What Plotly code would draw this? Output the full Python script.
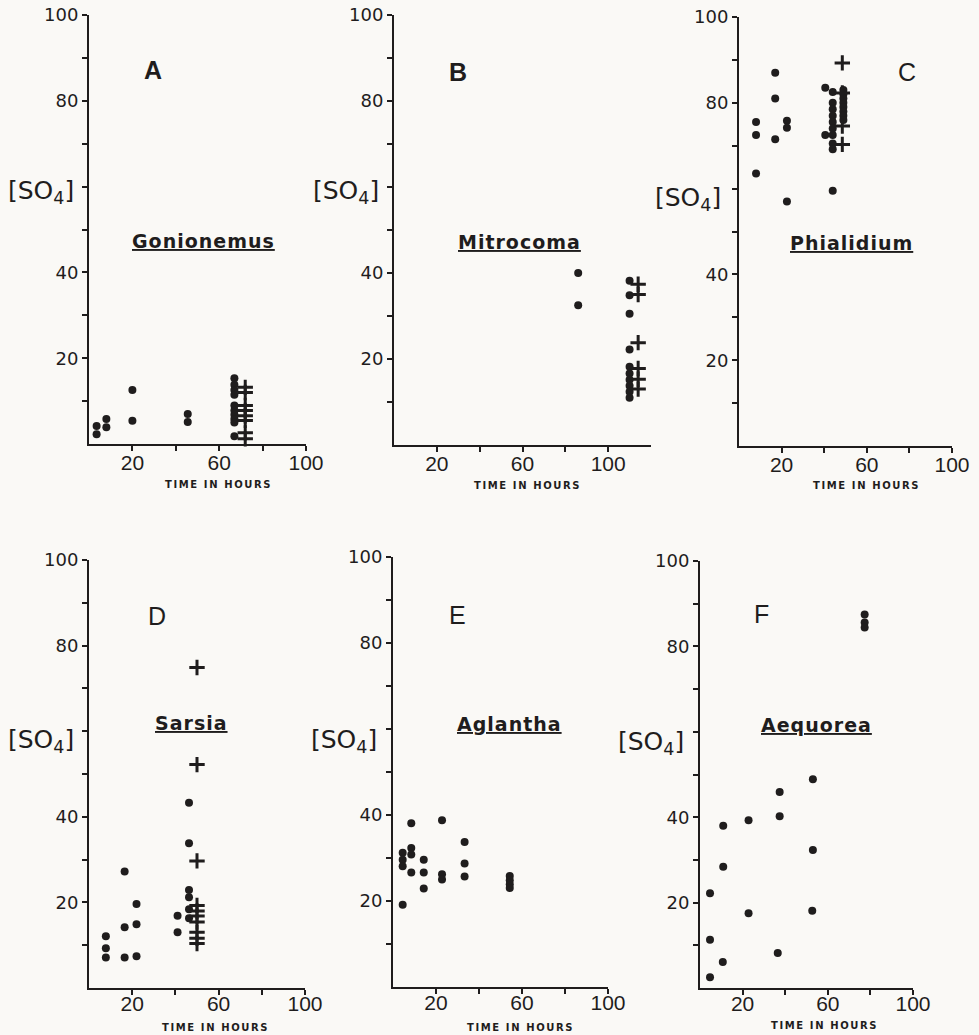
import plotly.graph_objects as go

W, H = 979, 1035
INK = "#1f1d1d"
BG = "#faf9f6"

# ---------------- data (time in hours, [SO4]) ----------------
# A  Gonionemus
a_dot_x = [3.5, 3.5, 8, 8, 20, 20, 45.5, 45.5, 67, 67, 67, 67, 67, 67, 67, 67, 67, 67]
a_dot_y = [2.3, 4.2, 3.9, 5.8, 12.6, 5.4, 7.0, 5.1, 15.3, 13.8, 12.6, 11.5, 9.0, 7.8, 6.8, 5.8, 5.0, 1.8]
a_crs_x = [72, 72, 72, 72, 72, 72, 72, 72]
a_crs_y = [13.2, 12.0, 9.0, 7.8, 6.6, 5.5, 2.6, 1.2]

# B  Mitrocoma
b_dot_x = [86, 86, 110, 110, 110, 110, 110, 110, 110, 110, 110, 110]
b_dot_y = [40.0, 32.5, 38.2, 34.8, 30.5, 22.2, 18.2, 16.6, 15.2, 13.8, 12.4, 11.0]
b_crs_x = [114, 114, 114, 114, 114, 114]
b_crs_y = [37.4, 35.0, 23.8, 17.8, 15.3, 13.0]

# C  Phialidium
c_dot_x = [8, 8, 8, 17, 17, 17, 22.5, 22.5, 22.5, 40.5, 40.5,
           44, 44, 44, 44, 44, 44, 44, 44, 44, 44,
           49, 49, 49, 49, 49, 49, 49, 49]
c_dot_y = [75.5, 72.5, 63.5, 87.0, 81.0, 71.5, 75.8, 74.2, 57.0, 83.5, 72.5,
           82.5, 80.0, 78.5, 77.0, 75.5, 74.0, 72.5, 70.5, 69.2, 59.5,
           83.0, 82.0, 81.0, 80.0, 79.0, 78.0, 77.0, 76.0]
c_crs_x = [48.5, 48.5, 48.5, 48.5]
c_crs_y = [89.3, 82.3, 74.6, 70.3]

# D  Sarsia
d_dot_x = [7.8, 7.8, 7.8, 16.5, 16.5, 16.5, 22, 22, 22, 41, 41,
           46.3, 46.3, 46.3, 46.3, 46.3, 46.3]
d_dot_y = [12.1, 9.3, 7.1, 27.2, 14.2, 7.1, 19.6, 14.9, 7.4, 16.9, 13.0,
           43.3, 33.8, 22.9, 21.2, 18.4, 16.3]
d_crs_x = [50, 50, 50, 50, 50, 50, 50, 50, 50, 50]
d_crs_y = [74.9, 52.2, 29.7, 19.3, 18.0, 16.8, 15.4, 13.0, 11.6, 10.4]

# E  Aglantha
e_dot_x = [4.5, 4.5, 4.5, 4.5, 8.5, 8.5, 8.5, 8.5, 14.3, 14.3, 14.3,
           22.8, 22.8, 22.8, 33.3, 33.3, 33.3, 54.3, 54.3, 54.3, 54.3]
e_dot_y = [31.2, 29.6, 28.1, 19.1, 38.1, 32.3, 30.8, 26.6, 29.6, 26.6, 22.9,
           38.8, 26.2, 25.0, 33.7, 28.7, 25.7, 25.8, 24.8, 23.9, 23.0]

# F  Aequorea
f_dot_x = [4.7, 4.7, 4.7, 10.7, 10.9, 10.9, 22.8, 22.8, 36.5, 37.4, 37.4,
           53, 53, 52.7, 77.3, 77.3, 77.3]
f_dot_y = [2.5, 11.3, 22.2, 6.1, 28.4, 38.0, 39.3, 17.5, 8.2, 40.2, 45.9,
           48.9, 32.3, 18.1, 87.5, 85.6, 84.4]

letters = ["A", "B", "C", "D", "E", "F"]
species = ["Gonionemus", "Mitrocoma", "Phialidium", "Sarsia", "Aglantha", "Aequorea"]
x_major = [20, 60, 100]
x_minor = [40, 80]
y_major = [20, 40, 80, 100]
y_minor = [10, 30, 50, 60, 70, 90]
x_max = [100, 120, 100, 100, 100, 100]

dots = [(a_dot_x, a_dot_y), (b_dot_x, b_dot_y), (c_dot_x, c_dot_y),
        (d_dot_x, d_dot_y), (e_dot_x, e_dot_y), (f_dot_x, f_dot_y)]
crosses = [(a_crs_x, a_crs_y), (b_crs_x, b_crs_y), (c_crs_x, c_crs_y),
           (d_crs_x, d_crs_y), None, None]

# ---------------- layout geometry (pixels) ----------------
# plot box: left, right, top, bottom
boxes = [(89, 306, 15, 444), (394, 651, 15, 445), (739, 952, 17, 446),
         (89, 305, 560, 988), (393, 608, 557, 987), (700, 913, 561, 988)]
x_label_standoff = [-6, -6, -6, -9, -9, -9]
letter_pos = [(153, 70, True), (458, 72, True), (907, 72, False),
              (157, 616, False), (457, 615, False), (761, 614, False)]
species_pos = [(203, 241), (519, 242), (851, 243), (191, 723), (509, 724), (816, 725)]
so4_pos = [(41, 192), (346, 192), (688, 199), (41, 741), (344, 741), (651, 743)]
time_pos = [(218, 484), (527, 485), (866, 486), (215, 1027), (520, 1027), (824, 1025)]


def px(x):
    return x / W


def py(y):
    return 1 - y / H


fig = go.Figure()
annotations = []
layout_axes = {}

for i in range(6):
    n = "" if i == 0 else str(i + 1)
    xa, ya = "x" + n, "y" + n
    l, r, t, b = boxes[i]
    layout_axes["xaxis" + n] = dict(
        domain=[px(l), px(r)], range=[0, x_max[i]], anchor=ya, automargin=False,
        showline=True, linecolor=INK, linewidth=2,
        ticks="outside", ticklen=5, tickwidth=2, tickcolor=INK,
        ticklabelstandoff=x_label_standoff[i],
        tickmode="array", tickvals=x_major, ticktext=[str(v) for v in x_major],
        minor=dict(tickmode="array", tickvals=x_minor, ticks="outside",
                   ticklen=5, tickwidth=2, tickcolor=INK, showgrid=False),
        tickfont=dict(family="Liberation Sans", size=21, color=INK),
        showgrid=False, zeroline=False, fixedrange=True)
    layout_axes["yaxis" + n] = dict(
        domain=[py(b), py(t)], range=[0, 100], anchor=xa, automargin=False,
        showline=True, linecolor=INK, linewidth=2,
        ticks="outside", ticklen=5, tickwidth=2, tickcolor=INK,
        tickmode="array", tickvals=y_major, ticktext=[str(v) for v in y_major],
        minor=dict(tickmode="array", tickvals=y_minor, ticks="outside",
                   ticklen=5, tickwidth=2, tickcolor=INK, showgrid=False),
        tickfont=dict(family="DejaVu Sans", size=18, color=INK),
        showgrid=False, zeroline=False, fixedrange=True)

    dx, dy = dots[i]
    fig.add_trace(go.Scatter(
        x=dx, y=dy, mode="markers", xaxis=xa, yaxis=ya, cliponaxis=False,
        marker=dict(symbol="circle", size=8, color=INK), showlegend=False))
    if crosses[i] is not None:
        cx, cy = crosses[i]
        fig.add_trace(go.Scatter(
            x=cx, y=cy, mode="markers", xaxis=xa, yaxis=ya, cliponaxis=False,
            marker=dict(symbol="cross-thin", size=11, color=INK,
                        line=dict(width=3, color=INK)), showlegend=False))

    common = dict(xref="paper", yref="paper", showarrow=False,
                  xanchor="center", yanchor="middle")
    lx, ly, bold = letter_pos[i]
    annotations.append(dict(
        x=px(lx), y=py(ly), **common,
        text=("<b>%s</b>" % letters[i]) if bold else letters[i],
        font=dict(family="Liberation Sans", size=25, color=INK)))
    sx, sy = species_pos[i]
    annotations.append(dict(
        x=px(sx), y=py(sy), **common,
        text='<b><u><span style="letter-spacing:1px">%s</span></u></b>' % species[i],
        font=dict(family="DejaVu Sans", size=19, color=INK)))
    qx, qy = so4_pos[i]
    annotations.append(dict(
        x=px(qx), y=py(qy), **common,
        text="[SO<sub>4</sub>]",
        font=dict(family="DejaVu Sans", size=25, color=INK)))
    tx, ty = time_pos[i]
    annotations.append(dict(
        x=px(tx), y=py(ty), **common,
        text='<b><span style="letter-spacing:1.6px">TIME IN HOURS</span></b>',
        font=dict(family="DejaVu Sans", size=10, color=INK)))

fig.update_layout(
    width=W, height=H, autosize=False,
    margin=dict(l=0, r=0, t=0, b=0, pad=0),
    paper_bgcolor=BG, plot_bgcolor=BG,
    annotations=annotations, showlegend=False,
    **layout_axes)

fig.write_html(
    "out.html",
    config={"displayModeBar": False},
    post_script="document.body.style.margin='0px';"
                "document.body.style.background='%s';"
                "document.documentElement.style.overflow='hidden';" % BG)
